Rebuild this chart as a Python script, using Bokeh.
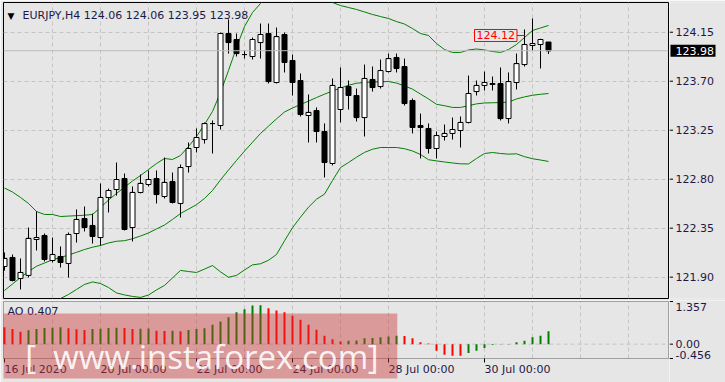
from bokeh.plotting import figure
from bokeh.models import Range1d, FixedTicker, Label, BoxAnnotation, Span, ColumnDataSource
from bokeh.layouts import column, row
from bokeh.embed import file_html
from bokeh.resources import INLINE
from bokeh.core.properties import value

# ---------------- data ----------------
symbol = "EURJPY,H4"
opens = [121.998, 122.081, 121.888, 121.916, 122.246, 122.283, 122.053, 122.090, 122.026, 122.301,
         122.439, 122.375, 122.264, 122.632, 122.705, 122.806, 122.356, 122.678, 122.751, 122.806,
         122.641, 122.779, 122.577, 122.916, 123.091, 123.164, 123.311, 123.293, 124.138, 124.083,
         123.945, 123.927, 124.055, 124.138, 123.688, 124.129, 123.890, 123.706, 123.385, 123.431,
         123.238, 122.944, 123.440, 123.651, 123.569, 123.366, 123.716, 123.651, 123.789, 123.918,
         123.835, 123.523, 123.293, 123.266, 123.082, 123.192, 123.220, 123.247, 123.321, 123.605,
         123.661, 123.670, 123.679, 123.357, 123.688, 123.853, 124.028, 124.037, 124.06]
highs = [122.127, 122.108, 122.072, 122.356, 122.503, 122.301, 122.264, 122.182, 122.310, 122.522,
         122.549, 122.484, 122.761, 122.714, 122.953, 122.852, 122.733, 122.843, 122.880, 122.880,
         122.999, 122.861, 122.935, 123.137, 123.266, 123.321, 123.339, 124.147, 124.267, 124.138,
         123.982, 124.101, 124.230, 124.230, 124.193, 124.147, 123.945, 123.771, 123.578, 123.459,
         123.312, 123.725, 123.826, 123.706, 123.633, 123.853, 123.835, 123.899, 123.954, 123.954,
         123.908, 123.541, 123.403, 123.312, 123.238, 123.302, 123.366, 123.376, 123.752, 123.706,
         123.789, 123.743, 123.826, 123.780, 123.954, 124.175, 124.276, 124.090, 124.06]
lows = [121.960, 121.861, 121.787, 121.897, 122.145, 122.044, 122.035, 121.989, 121.897, 122.218,
        122.320, 122.209, 122.191, 122.494, 122.649, 122.329, 122.228, 122.669, 122.733, 122.577,
        122.623, 122.577, 122.448, 122.861, 123.045, 123.127, 123.036, 123.256, 123.954, 123.927,
        123.908, 123.899, 123.908, 123.679, 123.679, 123.780, 123.569, 123.376, 123.137, 123.137,
        122.816, 122.926, 123.321, 123.440, 123.330, 123.192, 123.605, 123.633, 123.780, 123.780,
        123.477, 123.220, 122.990, 123.036, 122.990, 123.155, 123.164, 123.091, 123.312, 123.569,
        123.615, 123.615, 123.339, 123.312, 123.624, 123.835, 123.982, 123.817, 123.95]
closes = [122.072, 121.870, 121.943, 122.256, 122.264, 122.063, 122.108, 122.035, 122.292, 122.430,
          122.356, 122.274, 122.632, 122.696, 122.797, 122.338, 122.678, 122.761, 122.797, 122.659,
          122.770, 122.586, 122.907, 123.082, 123.183, 123.311, 123.311, 124.138, 124.055, 123.954,
          123.945, 124.083, 124.129, 123.697, 124.110, 123.872, 123.688, 123.394, 123.413, 123.238,
          122.953, 123.661, 123.642, 123.569, 123.366, 123.725, 123.642, 123.798, 123.908, 123.817,
          123.495, 123.275, 123.275, 123.082, 123.201, 123.220, 123.256, 123.321, 123.587, 123.661,
          123.688, 123.679, 123.357, 123.697, 123.862, 124.037, 124.046, 124.083, 123.98]
bb_upper = [122.719, 122.682, 122.632, 122.577, 122.503, 122.476, 122.476, 122.457, 122.461, 122.465,
            122.469, 122.476, 122.540, 122.608, 122.669, 122.727, 122.783, 122.834, 122.889, 122.944,
            122.990, 122.981, 123.018, 123.100, 123.192, 123.302, 123.422, 123.596, 123.798, 124.010,
            124.202, 124.331, 124.414, 124.515, 124.588, 124.597, 124.561, 124.524, 124.496, 124.478,
            124.469, 124.423, 124.395, 124.377, 124.359, 124.336, 124.313, 124.294, 124.276, 124.248,
            124.225, 124.184, 124.138, 124.120, 124.046, 123.991, 123.964, 123.964, 123.987, 123.996,
            123.987, 123.973, 123.964, 123.991, 124.037, 124.101, 124.166, 124.189, 124.212]
bb_middle = [121.778, 121.837, 121.897, 121.952, 122.000, 122.030, 122.059, 122.081, 122.103, 122.128,
             122.154, 122.175, 122.191, 122.214, 122.230, 122.235, 122.253, 122.278, 122.306, 122.343,
             122.379, 122.430, 122.485, 122.525, 122.566, 122.623, 122.696, 122.794, 122.884, 122.972,
             123.058, 123.139, 123.220, 123.287, 123.354, 123.417, 123.454, 123.486, 123.517, 123.550,
             123.581, 123.610, 123.637, 123.663, 123.681, 123.689, 123.692, 123.695, 123.697, 123.683,
             123.657, 123.627, 123.582, 123.537, 123.488, 123.475, 123.459, 123.459, 123.475, 123.492,
             123.500, 123.502, 123.504, 123.508, 123.537, 123.556, 123.571, 123.580, 123.587]
bb_lower = [120.841, 120.988, 121.163, 121.328, 121.493, 121.585, 121.640, 121.704, 121.741, 121.787,
            121.833, 121.856, 121.842, 121.805, 121.755, 121.737, 121.723, 121.714, 121.736, 121.783,
            121.824, 121.893, 121.962, 121.952, 121.943, 121.974, 122.007, 121.949, 121.899, 121.916,
            121.966, 122.013, 122.023, 122.055, 122.108, 122.234, 122.354, 122.451, 122.543, 122.616,
            122.663, 122.788, 122.907, 122.953, 123.002, 123.046, 123.075, 123.091, 123.091, 123.091,
            123.080, 123.059, 123.027, 122.979, 122.968, 122.958, 122.949, 122.941, 122.940, 122.990,
            123.036, 123.045, 123.036, 123.030, 123.033, 123.007, 122.988, 122.976, 122.963]
ao = [0.536, 0.483, 0.398, 0.440, 0.483, 0.515, 0.520, 0.536, 0.504, 0.472,
      0.450, 0.483, 0.494, 0.515, 0.525, 0.515, 0.483, 0.490, 0.500, 0.430,
      0.420, 0.430, 0.410, 0.450, 0.480, 0.509, 0.617, 0.722, 0.859, 1.018,
      1.113, 1.231, 1.235, 1.145, 1.072, 1.018, 0.903, 0.776, 0.617, 0.458,
      0.267, 0.159, 0.086, 0.108, 0.115, 0.190, 0.200, 0.223, 0.245, 0.270,
      0.260, 0.186, 0.058, 0.020, -0.207, -0.334, -0.366, -0.370, -0.281, -0.207,
      -0.120, -0.030, -0.010, 0.005, 0.058, 0.111, 0.218, 0.271, 0.407]
price_ticks = [121.90, 122.35, 122.80, 123.25, 123.70, 124.15]
price_tick_labels = ["121.90", "122.35", "122.80", "123.25", "123.70", "124.15"]
ao_max, ao_min = 1.357, -0.456
ao_tick_values = [1.357, 0.0, -0.456]
ao_tick_labels = ["1.357", "0.00", "-0.456"]
date_tick_bars = [0, 12, 24, 36, 48, 60]
date_tick_labels = ["16 Jul 2020", "20 Jul 00:00", "22 Jul 00:00", "24 Jul 00:00",
                    "28 Jul 00:00", "30 Jul 00:00"]
grid_bars = [6, 12, 18, 24, 30, 36, 42, 48, 54, 60, 66, 72, 78]
marker_price = 124.12
marker_bar = 65

# ---------------- styles / layout constants ----------------
BG = "#e6e6e6"
FG = "#1e1846"
FONT = "DejaVu Sans"
GRIDC = "#c4c4c4"
GREEN = "#008000"
RED = "#ff0000"
X_LO, X_HI = -0.125, 83.0          # chart box in bar units
Y_LO, Y_HI = 121.704, 124.423      # chart box in price units
AO_PX = 31.44                      # AO pixels per unit

bars = list(range(len(opens)))


def base_fig(**kw):
    p = figure(output_backend="svg", toolbar_location=None, x_axis_location=None,
               y_axis_location=None, **kw)
    p.background_fill_color = BG
    p.border_fill_color = BG
    p.outline_line_color = None
    p.grid.visible = False
    return p


def scale_text(p, x, y, labels, baseline, color=FG):
    p.text(x=x, y=y, text=labels, text_font=value(FONT), text_font_size="11px",
           text_color=color, text_align="left", text_baseline=baseline)


# ---------------- main price panel ----------------
p1 = base_fig(width=669, height=300, x_range=Range1d(X_LO, X_HI), y_range=Range1d(Y_LO, Y_HI),
              min_border_left=3, min_border_right=1, min_border_top=2, min_border_bottom=2)
p1.outline_line_color = "black"
p1.grid.visible = True
p1.xgrid.ticker = FixedTicker(ticks=grid_bars)
p1.ygrid.ticker = FixedTicker(ticks=price_ticks)
p1.grid.grid_line_color = GRIDC
p1.grid.grid_line_dash = "4 3"

p1.add_layout(Span(location=closes[-1], dimension="width", line_color="#bdbdbd", line_width=1))

up = [c >= o for o, c in zip(opens, closes)]
src = ColumnDataSource(dict(
    x=bars, high=highs, low=lows,
    top=[max(o, c) for o, c in zip(opens, closes)],
    bottom=[min(o, c) for o, c in zip(opens, closes)],
    close=closes,
    x0=[b - 0.3125 for b in bars], x1=[b + 0.3125 for b in bars],
    fill=["white" if u else "black" for u in up],
))
for band in (bb_upper, bb_middle, bb_lower):
    p1.line(bars, band, line_color=GREEN, line_width=1)
p1.segment(x0="x", y0="high", x1="x", y1="low", source=src, line_color="black", line_width=1)
p1.vbar(x="x", width=0.625, top="top", bottom="bottom", source=src,
        fill_color="fill", line_color="black", line_width=1)
p1.segment(x0="x0", y0="close", x1="x1", y1="close", source=src, line_color="black", line_width=1)

# red level marker
p1.segment(x0=[marker_bar - 1.3], y0=[marker_price], x1=[marker_bar], y1=[marker_price],
           line_color=RED, line_width=1)
p1.add_layout(Label(x=marker_bar, y=marker_price, x_offset=-50, text=f"{marker_price:.2f}",
                    text_align="left", text_baseline="middle", text_color=RED,
                    text_font=FONT, text_font_size="11px", padding=2,
                    border_line_color=RED, border_line_width=1, background_fill_color=BG))

# header
p1.add_layout(Label(x=X_LO, y=Y_HI, x_offset=4, y_offset=-13, text="\u25BC",
                    text_font=FONT, text_font_size="9px", text_color="black",
                    text_baseline="middle"))
header = f"{symbol}  {opens[-1]:.2f} {highs[-1]:.2f} {lows[-1]:.2f} {closes[-1]:.2f}"
p1.add_layout(Label(x=X_LO, y=Y_HI, x_offset=19, y_offset=-13, text=header,
                    text_font=FONT, text_font_size="11px", text_color=FG,
                    text_baseline="middle"))

# right price scale (shares the price range)
p1r = base_fig(width=56, height=300, x_range=Range1d(0, 56), y_range=p1.y_range,
               min_border_left=0, min_border_right=0, min_border_top=2, min_border_bottom=2)
p1r.segment(x0=0, y0=price_ticks, x1=3.5, y1=price_ticks, line_color="black", line_width=1)
scale_text(p1r, 6, price_ticks, price_tick_labels, "middle")
p1r.rect(x=[23.5], y=[closes[-1]], width=45, height=12, height_units="screen",
         fill_color="black", line_color=None)
scale_text(p1r, [6], [closes[-1]], [f"{closes[-1]:.2f}"], "middle", color="white")

# ---------------- AO panel (+ time axis underneath) ----------------
ao_lo = ao_min - 24 / AO_PX
ao_hi = ao_max + 1 / AO_PX
p2 = base_fig(width=669, height=82, x_range=Range1d(X_LO - 0.125, X_HI + 0.125),
              y_range=Range1d(ao_lo, ao_hi),
              min_border_left=2, min_border_right=0, min_border_top=0, min_border_bottom=0)
p2.segment(x0=grid_bars, y0=ao_min, x1=grid_bars, y1=ao_max, line_color=GRIDC,
           line_dash="4 3", line_width=1)
p2.segment(x0=[X_LO], y0=[0], x1=[X_HI], y1=[0], line_color=GRIDC, line_dash="4 3", line_width=1)

ao_colors = [RED if (i == 0 or v < ao[i - 1]) else GREEN for i, v in enumerate(ao)]
p2.vbar(x=bars, top=ao, bottom=0, width=0.25, fill_color=ao_colors, line_color=None)

# time axis: ticks + left-aligned labels
p2.segment(x0=date_tick_bars, y0=ao_min, x1=date_tick_bars, y1=ao_min - 4 / AO_PX,
           line_color="black", line_width=1)
scale_text(p2, date_tick_bars, [ao_min - 11 / AO_PX] * len(date_tick_bars), date_tick_labels, "middle")

p2.add_layout(BoxAnnotation(left=X_LO, right=X_HI, top=ao_max, bottom=ao_min,
                            fill_color=None, line_color="black", line_width=1))
p2.add_layout(Label(x=X_LO, y=ao_max, x_offset=4, y_offset=-10, text=f"AO {ao[-1]:.3f}",
                    text_font=FONT, text_font_size="11px", text_color=FG, text_baseline="middle"))

# watermark
p2.add_layout(BoxAnnotation(left=X_LO, right=49.1, top=0.975, bottom=-1.092,
                            fill_color="#cc3333", fill_alpha=0.42, line_color=None))
wm_base = ao_min + 2 / AO_PX
for wx, wt in ((6.1, "www.instaforex.com"), (2.6, "["), (45.4, "]")):
    p2.add_layout(Label(x=wx, y=wm_base, text=wt, text_align="left",
                        text_baseline="alphabetic", text_font="Open Sans",
                        text_font_size="33px", text_color="white", text_alpha=0.9))

# right AO scale (shares the AO range)
p2r = base_fig(width=56, height=82, x_range=Range1d(0, 56), y_range=p2.y_range,
               min_border_left=0, min_border_right=0, min_border_top=0, min_border_bottom=0)
p2r.segment(x0=0, y0=ao_tick_values, x1=3.5, y1=ao_tick_values, line_color="black", line_width=1)
scale_text(p2r, [6], [ao_tick_values[0] - 2 / AO_PX], [ao_tick_labels[0]], "top")
scale_text(p2r, [6], [ao_tick_values[1]], [ao_tick_labels[1]], "middle")
scale_text(p2r, [6], [ao_tick_values[2]], [ao_tick_labels[2]], "bottom")

layout = column(row(p1, p1r, spacing=0), row(p2, p2r, spacing=0), spacing=0)
open("out.html", "w").write(file_html(layout, INLINE))
